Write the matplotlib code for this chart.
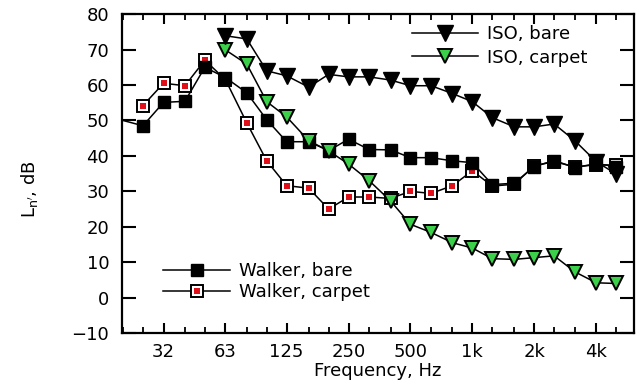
import matplotlib
matplotlib.use("Agg")
import matplotlib.pyplot as plt
from matplotlib.lines import Line2D
from matplotlib.legend_handler import HandlerTuple
from matplotlib.ticker import FixedLocator, FixedFormatter, NullFormatter

# third-octave band centres, Hz
freqs = [20, 25, 31.5, 40, 50, 63, 80, 100, 125, 160, 200, 250, 315, 400, 500,
         630, 800, 1000, 1250, 1600, 2000, 2500, 3150, 4000, 5000]

walker_bare = [50.0, 48.5, 55.1, 55.4, 65.0, 62.1, 57.8, 50.2, 44.0, 44.0, 41.5,
               44.7, 41.8, 41.7, 39.5, 39.5, 38.6, 38.1, 31.9, 32.3, 37.0, 38.7,
               36.7, 37.8, 37.0]
walker_carpet = [54.2, 60.5, 59.8, 67.0, 61.5, 49.3, 38.6, 31.6, 30.9, 25.0, 28.4,
                 28.4, 28.0, 30.0, 29.4, 31.6, 35.8, 31.5, 32.0, 37.2, 38.4, 36.9,
                 37.5, 37.4]
iso_bare = [73.9, 73.0, 64.0, 62.6, 59.4, 63.0, 62.3, 62.3, 61.4, 59.8, 59.8, 57.6,
            55.3, 50.8, 48.2, 48.2, 49.0, 44.3, 38.4, 34.9]
iso_carpet = [69.9, 65.9, 55.3, 51.0, 44.3, 41.4, 37.7, 33.0, 27.3, 20.7, 18.4,
              15.5, 14.0, 11.0, 10.8, 11.3, 11.8, 7.3, 4.2, 4.0]

major_f = [31.5, 63, 125, 250, 500, 1000, 2000, 4000]
major_lbl = ["32", "63", "125", "250", "500", "1k", "2k", "4k"]
y_ticks = [-10, 0, 10, 20, 30, 40, 50, 60, 70, 80]

GREEN = "#3ccf4a"
RED = "#e0101a"

plt.rcParams["font.family"] = ["DejaVu Sans"]
plt.rcParams["mathtext.fontset"] = "dejavusans"

fig = plt.figure(figsize=(6.37, 3.82), dpi=100)
ax = fig.add_axes([0.191, 0.128, 0.804, 0.835])

f_walk = freqs[1:]
f_iso = freqs[5:]

# Walker, carpet: white square with a red centre
ax.plot(f_walk, walker_carpet, "-", color="black", lw=1.1, zorder=2)
ax.plot(f_walk, walker_carpet, "s", ms=9, mfc="white", mec="black", mew=1.4, zorder=2)
ax.plot(f_walk, walker_carpet, "s", ms=4.5, mfc=RED, mec=RED, mew=0, zorder=2)

# Walker, bare: line starts at the axis edge, markers from 25 Hz
ax.plot(freqs, walker_bare, "-", color="black", lw=1.1, zorder=3)
ax.plot(f_walk, walker_bare[1:], "s", ms=9, color="black", zorder=3)

# ISO, carpet
ax.plot(f_iso, iso_carpet, "-", color="black", lw=1.1, zorder=4)
ax.plot(f_iso, iso_carpet, "v", ms=10, mfc=GREEN, mec="black", mew=1.4, zorder=4)

# ISO, bare
ax.plot(f_iso, iso_bare, "-", color="black", lw=1.1, zorder=5)
ax.plot(f_iso, iso_bare, "v", ms=11, color="black", zorder=5)

ax.set_xscale("log")
ax.set_xlim(19.7, 6100)
ax.set_ylim(-10, 80)

ax.xaxis.set_major_locator(FixedLocator(major_f))
ax.xaxis.set_major_formatter(FixedFormatter(major_lbl))
ax.xaxis.set_minor_locator(FixedLocator(freqs))
ax.xaxis.set_minor_formatter(NullFormatter())
ax.set_yticks(y_ticks)

ax.tick_params(axis="x", which="major", direction="in", top=True, length=7, width=1.5,
               labelsize=13, pad=7)
ax.tick_params(axis="x", which="minor", direction="in", top=True, length=4, width=1.3)
ax.tick_params(axis="y", which="major", direction="in", right=True, length=10, width=1.5,
               labelsize=13, pad=9)
for s in ax.spines.values():
    s.set_linewidth(1.6)

ax.set_xlabel("Frequency, Hz", fontsize=13, labelpad=1)
ax.set_ylabel(r"$\mathrm{L_{n'}}$, dB", fontsize=13)
ax.yaxis.set_label_coords(-0.16, 0.45)

# legend proxies
h_iso_bare = Line2D([], [], color="black", lw=1.1, marker="v", ms=11)
h_iso_carp = Line2D([], [], color="black", lw=1.1, marker="v", ms=10,
                    mfc=GREEN, mec="black", mew=1.4)
h_w_bare = Line2D([], [], color="black", lw=1.1, marker="s", ms=9)
h_w_carp = (Line2D([], [], color="black", lw=1.1, marker="s", ms=9,
                   mfc="white", mec="black", mew=1.4),
            Line2D([], [], ls="none", marker="s", ms=4.5, mfc=RED, mec=RED, mew=0))

leg1 = ax.legend([h_iso_bare, h_iso_carp], ["ISO, bare", "ISO, carpet"],
                 loc="upper left", bbox_to_anchor=(0.566, 0.965), frameon=False,
                 fontsize=13, handlelength=3.7, handletextpad=0.5, labelspacing=0.3,
                 borderpad=0, borderaxespad=0, numpoints=1)
ax.add_artist(leg1)
ax.legend([h_w_bare, h_w_carp], ["Walker, bare", "Walker, carpet"],
          loc="lower left", bbox_to_anchor=(0.081, 0.10), frameon=False,
          fontsize=13, handlelength=3.7, handletextpad=0.5, labelspacing=0.15,
          borderpad=0, borderaxespad=0, numpoints=1,
          handler_map={tuple: HandlerTuple(ndivide=1, pad=0)})

fig.savefig("out.png", dpi=100)
